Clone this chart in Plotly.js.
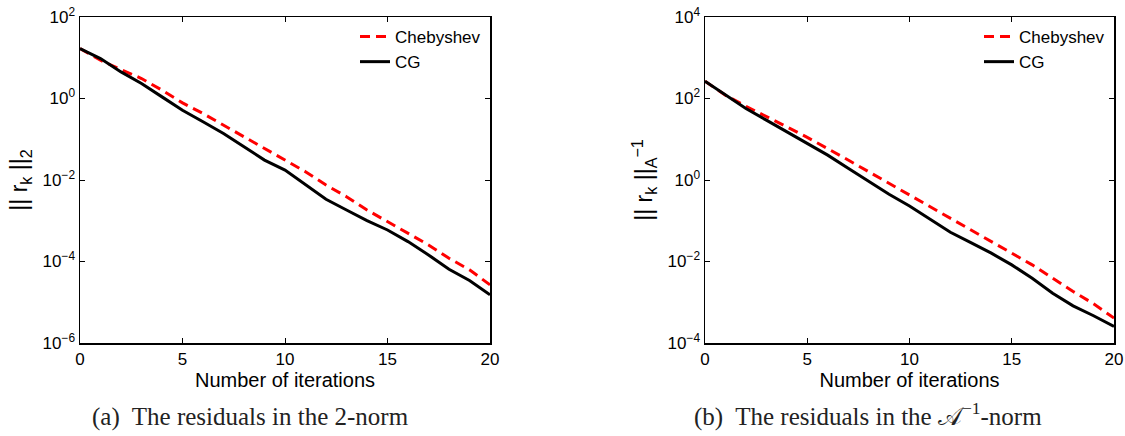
<!DOCTYPE html>
<html>
<head>
<meta charset="utf-8">
<script src="https://cdn.plot.ly/plotly-3.0.1.min.js"></script>
<style>html,body{margin:0;padding:0;background:#fff;}#chart{width:1125px;height:436px;}</style>
</head>
<body>
<div id="chart"></div>
<script>
// iterations
const iterations = [0,1,2,3,4,5,6,7,8,9,10,11,12,13,14,15,16,17,18,19,20];

// (a) residuals in the 2-norm
const chebyshev2 = [16.75, 8.67, 5.13, 3.09, 1.60, 0.782, 0.4285, 0.222, 0.1151, 0.0596, 0.0308,
  0.01596, 0.00753, 0.0039, 0.001837, 0.000953, 0.000513, 0.000255, 0.0001205, 6.24e-5, 2.68e-5];
const cg2 = [16.75, 9.53, 4.49, 2.33, 1.096, 0.516, 0.268, 0.1387, 0.0653, 0.0308, 0.01754,
  0.00753, 0.00336, 0.001837, 0.001007, 0.000594, 0.000308, 0.000145, 6.47e-5, 3.41e-5, 1.52e-5];

// (b) residuals in the A^-1 norm
const chebyshevA = [265.5, 120.2, 64.6, 36.9, 20.2, 11.1, 5.96, 3.09, 1.60, 0.830, 0.430,
  0.222, 0.115, 0.0597, 0.0309, 0.0160, 0.00828, 0.00389, 0.00184, 0.000918, 0.000409];
const cgA = [265.5, 120.5, 56.9, 29.4, 15.2, 7.91, 4.08, 1.93, 0.908, 0.446, 0.230,
  0.109, 0.0522, 0.0290, 0.0160, 0.00826, 0.00389, 0.00167, 0.000818, 0.000466, 0.000255];

// tick labels
const xTicks = [0, 5, 10, 15, 20];
const yTickValsA = [1e-6, 1e-4, 1e-2, 1, 100];
const yTickTextA = ['10<sup>\u22126</sup>', '10<sup>\u22124</sup>', '10<sup>\u22122</sup>', '10<sup>0</sup>', '10<sup>2</sup>'];
const yTickValsB = [1e-4, 1e-2, 1, 100, 1e4];
const yTickTextB = ['10<sup>\u22124</sup>', '10<sup>\u22122</sup>', '10<sup>0</sup>', '10<sup>2</sup>', '10<sup>4</sup>'];

const seriesNames = ['Chebyshev', 'CG'];
const xTitle = 'Number of iterations';
const captionA = '(a)  The residuals in the 2-norm';
const captionB = '(b)  The residuals in the \uD835\uDC9C<sup>\u22121</sup>-norm';

const FONT = 'Liberation Sans, Arial, Helvetica, sans-serif';
const redLine = {color: '#ff0000', width: 3, dash: '10px,6px'};
const blackLine = {color: '#000000', width: 3};

const traces = [
  {x: iterations, y: chebyshev2, type: 'scatter', mode: 'lines', name: seriesNames[0], line: redLine, xaxis: 'x', yaxis: 'y'},
  {x: iterations, y: cg2, type: 'scatter', mode: 'lines', name: seriesNames[1], line: blackLine, xaxis: 'x', yaxis: 'y'},
  {x: iterations, y: chebyshevA, type: 'scatter', mode: 'lines', name: seriesNames[0], line: redLine, xaxis: 'x2', yaxis: 'y2', legend: 'legend2'},
  {x: iterations, y: cgA, type: 'scatter', mode: 'lines', name: seriesNames[1], line: blackLine, xaxis: 'x2', yaxis: 'y2', legend: 'legend2'}
];

const W = 1125, H = 436;
const mL = 80, mR = 11, mT = 17, mB = 93;
const pw = W - mL - mR, ph = H - mT - mB;
const px = v => (v - mL) / pw;
const py = v => (H - mB - v) / ph;

function xAxis(domain, anchor) {
  return {
    domain: domain, anchor: anchor, range: [0, 20], tickvals: xTicks, ticks: 'inside', ticklen: 5,
    tickwidth: 1, tickcolor: '#000', showline: true, linecolor: '#000', linewidth: 1.5, mirror: 'ticks',
    showgrid: false, zeroline: false, tickfont: {family: FONT, size: 17, color: '#000'},
    title: {text: xTitle, font: {family: FONT, size: 20, color: '#000'}, standoff: 2}
  };
}
function yAxis(range, tv, tt, anchor, title) {
  return {
    type: 'log', range: range, tickvals: tv, ticktext: tt, anchor: anchor, ticks: 'inside', ticklen: 5,
    tickwidth: 1, tickcolor: '#000', showline: true, linecolor: '#000', linewidth: 1.5, mirror: 'ticks',
    showgrid: false, zeroline: false, tickfont: {family: FONT, size: 17, color: '#000'},
    title: {text: title, font: {family: FONT, size: 23, color: '#000'}, standoff: 8}
  };
}

const legendStyle = (x) => ({
  x: x, y: py(19), xanchor: 'left', yanchor: 'top', xref: 'paper', yref: 'paper',
  bgcolor: 'rgba(0,0,0,0)', borderwidth: 0, font: {family: FONT, size: 17, color: '#000'},
  tracegroupgap: 0, itemwidth: 30
});

const captionFont = {family: 'Liberation Serif, Times New Roman, serif', size: 25, color: '#222'};

const layout = {
  width: W, height: H,
  margin: {l: mL, r: mR, t: mT, b: mB},
  paper_bgcolor: '#fff', plot_bgcolor: '#fff',
  showlegend: true,
  xaxis: xAxis([0, px(490)], 'y'),
  yaxis: yAxis([-6, 2], yTickValsA, yTickTextA, 'x', '|| r<sub>k</sub> ||<sub>2</sub>'),
  xaxis2: xAxis([px(705), 1], 'y2'),
  yaxis2: yAxis([-4, 4], yTickValsB, yTickTextB, 'x2', '|| r<sub>k</sub> ||<sub>A</sub><sup>\u22121</sup>'),
  legend: legendStyle(px(355)),
  legend2: legendStyle(px(979)),
  annotations: [
    {text: captionA, xref: 'paper', yref: 'paper', x: px(250), y: py(433), xanchor: 'center', yanchor: 'bottom',
     showarrow: false, font: captionFont},
    {text: captionB, xref: 'paper', yref: 'paper', x: px(868), y: py(433), xanchor: 'center', yanchor: 'bottom',
     showarrow: false, font: captionFont}
  ]
};

Plotly.newPlot('chart', traces, layout, {displayModeBar: false, staticPlot: true});
</script>
</body>
</html>
